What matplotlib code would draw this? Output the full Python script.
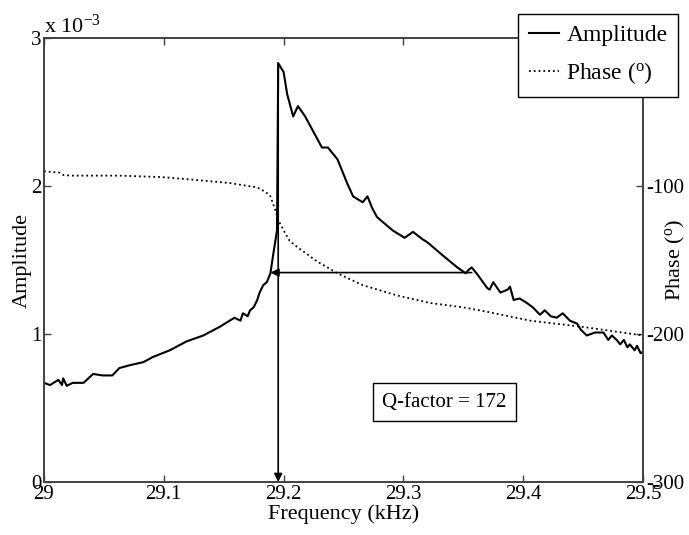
import numpy as np
import matplotlib
matplotlib.use("Agg")
import matplotlib.pyplot as plt

plt.rcParams['font.family'] = ['Liberation Serif', 'DejaVu Serif']
plt.rcParams['mathtext.fontset'] = 'custom'
plt.rcParams['mathtext.rm'] = 'Liberation Serif'
plt.rcParams['mathtext.it'] = 'Liberation Serif:italic'
plt.rcParams['axes.unicode_minus'] = False

# amplitude (x 1e-3) vs frequency (kHz)
amp_freq = [29.000, 29.005, 29.012, 29.015, 29.016, 29.019, 29.024, 29.033, 29.041, 29.049,
            29.057, 29.063, 29.072, 29.083, 29.091, 29.105, 29.119, 29.133, 29.147, 29.159,
            29.164, 29.166, 29.170, 29.172, 29.175, 29.178, 29.180, 29.183, 29.186, 29.189,
            29.191, 29.1945, 29.1955, 29.200, 29.203, 29.208, 29.212, 29.218, 29.224, 29.232,
            29.237, 29.245, 29.253, 29.258, 29.266, 29.270, 29.274, 29.278, 29.291, 29.301,
            29.308, 29.316, 29.320, 29.333, 29.345, 29.352, 29.354, 29.357, 29.362, 29.370,
            29.372, 29.375, 29.381, 29.387, 29.389, 29.392, 29.397, 29.403, 29.408, 29.414,
            29.418, 29.423, 29.428, 29.433, 29.439, 29.445, 29.448, 29.453, 29.460, 29.467,
            29.471, 29.474, 29.478, 29.481, 29.484, 29.487, 29.489, 29.493, 29.495, 29.498,
            29.500]
amp_vals = [0.67, 0.655, 0.69, 0.655, 0.70, 0.65, 0.67, 0.67, 0.73, 0.72,
            0.72, 0.77, 0.79, 0.81, 0.845, 0.89, 0.95, 0.99, 1.05, 1.11,
            1.09, 1.14, 1.12, 1.16, 1.18, 1.23, 1.28, 1.33, 1.35, 1.41,
            1.52, 1.70, 2.83, 2.77, 2.62, 2.47, 2.54, 2.47, 2.38, 2.26,
            2.26, 2.18, 2.02, 1.93, 1.89, 1.93, 1.85, 1.79, 1.70, 1.65,
            1.69, 1.64, 1.62, 1.53, 1.45, 1.41, 1.43, 1.45, 1.40, 1.31,
            1.30, 1.35, 1.28, 1.30, 1.32, 1.23, 1.24, 1.21, 1.18, 1.13,
            1.16, 1.12, 1.11, 1.14, 1.09, 1.07, 1.03, 0.99, 1.01, 1.01,
            0.96, 0.99, 0.96, 0.93, 0.96, 0.91, 0.93, 0.89, 0.92, 0.87,
            0.88]

# phase (deg)
ph_freq = [29.000, 29.013, 29.016, 29.022, 29.038, 29.063, 29.099, 29.128, 29.155, 29.178,
           29.185, 29.189, 29.193, 29.1955, 29.200, 29.205, 29.211, 29.228, 29.245, 29.266,
           29.295, 29.322, 29.350, 29.370, 29.406, 29.448, 29.500]
ph_vals = [-90, -91, -92.5, -93, -93, -93, -94, -96, -98, -101,
           -104, -107, -116, -123, -130, -137, -141, -151, -159, -167,
           -174, -179, -182, -185, -191, -195, -201]

# half-power bandwidth edges (kHz)
f_low = 29.189
f_high = 29.357
q_text = 'Q-factor = 172'

fig = plt.figure(figsize=(6.89, 5.35), dpi=100)
ax = fig.add_axes([44/689, 53/535, 599/689, 444/535])
ax2 = ax.twinx()

l1, = ax.plot(amp_freq, amp_vals, color='black', lw=1.5, label='Amplitude')
l2, = ax2.plot(ph_freq, ph_vals, color='black', lw=1.3, ls=':', label='Phase ($^{\\rm o}$)')

ax.set_xlim(29, 29.5)
ax.set_ylim(0, 3)
ax2.set_ylim(-300, 0)
ax.set_xticks([29, 29.1, 29.2, 29.3, 29.4, 29.5])
ax.set_xticklabels(['29', '29.1', '29.2', '29.3', '29.4', '29.5'])
ax.set_yticks([0, 1, 2, 3])
ax2.set_yticks([-300, -200, -100])

spine_c = '0.25'
for a in (ax, ax2):
    for s in a.spines.values():
        s.set_color(spine_c)
        s.set_linewidth(1.2)
ax.tick_params(direction='in', top=True, right=False, length=5, width=1, color=spine_c,
               labelsize=15, pad=2)
ax2.tick_params(direction='in', length=5, width=1, color=spine_c, labelsize=15, pad=2)

ax.set_xlabel('Frequency (kHz)', fontsize=16, labelpad=0)
ax.set_ylabel('Amplitude', fontsize=16)
ax2.set_ylabel('Phase ($^{\\rm o}$)', fontsize=16)
ax.yaxis.set_label_coords(-0.02, 0.5)
ax2.yaxis.set_label_coords(1.035, 0.5)
ax.text(0.0, 1.0, 'x 10$^{-3}$', transform=ax.transAxes, ha='left', va='bottom', fontsize=16)

# resonance markers
peak_i = int(np.argmax(amp_vals))
f_peak = amp_freq[peak_i]
half = amp_vals[peak_i] / 2
ax.annotate('', xy=(f_peak, 0), xytext=(f_peak, amp_vals[peak_i]),
            arrowprops=dict(arrowstyle='-|>', color='black', lw=1.2, mutation_scale=12,
                            shrinkA=0, shrinkB=0))
ax.annotate('', xy=(f_low, half), xytext=(f_high, half),
            arrowprops=dict(arrowstyle='-|>', color='black', lw=1.2, mutation_scale=12,
                            shrinkA=0, shrinkB=0))

ax.text(29.334, 0.54, q_text, ha='center', va='center', fontsize=15,
        bbox=dict(boxstyle='square,pad=0.45', fc='white', ec='black', lw=1))

leg = ax2.legend([l1, l2], ['Amplitude', 'Phase ($^{\\rm o}$)'], loc='upper left',
                 bbox_to_anchor=(518/689, 1 - 14/535), bbox_transform=fig.transFigure,
                 fontsize=17, frameon=True, fancybox=False, borderaxespad=0,
                 handlelength=1.3, handletextpad=0.3, labelspacing=0.6, borderpad=0.45)
leg.get_frame().set_edgecolor('black')
leg.get_frame().set_linewidth(1)
leg.get_frame().set_alpha(1)

fig.savefig('out.png', dpi=100)
